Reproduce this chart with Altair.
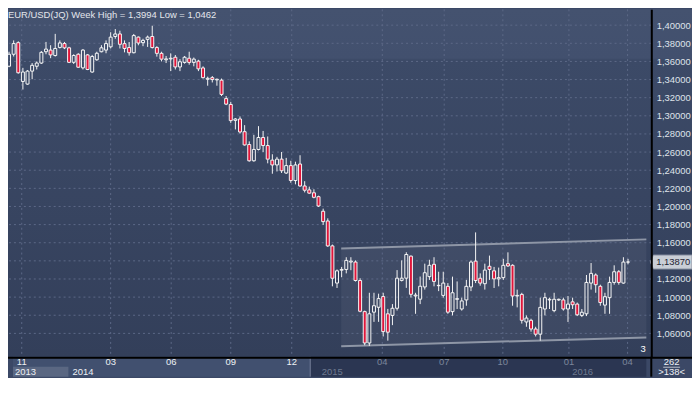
import altair as alt
import pandas as pd
import numpy as np

# ---------------- data (weekly EUR/USD candles) ----------------
opens = [1.3547,1.3679,1.3807,1.3379,1.3350,1.3493,1.3547,1.3582,1.3707,1.3725,
         1.3665,1.3754,1.3797,1.3750,1.3590,1.3679,1.3529,1.3672,1.3483,1.3618,
         1.3707,1.3725,1.3761,1.3875,1.3903,1.3796,1.3753,1.3696,1.3868,1.3807,
         1.3843,1.3875,1.3753,1.3689,1.3618,1.3628,1.3646,1.3539,1.3589,1.3635,
         1.3589,1.3603,1.3528,1.3403,1.3421,1.3396,1.3393,1.3190,1.3125,1.2950,
         1.2965,1.2825,1.2683,1.2504,1.2629,1.2761,1.2672,1.2511,1.2458,1.2522,
         1.2369,1.2451,1.2286,1.2468,1.2226,1.2183,1.2151,1.2108,1.1947,1.1840,
         1.1565,1.1155,1.1297,1.1305,1.1387,1.1387,1.1183,1.0840,1.0494,1.0834,
         1.0888,1.1006,1.0816,1.0798,1.0877,1.1184,1.1209,1.1452,1.1013,1.0977,
         1.1112,1.1226,1.1362,1.1126,1.1019,1.1119,1.0840,1.0976,1.0869,1.0969,
         1.1112,1.1397,1.1208,1.1148,1.1340,1.1290,1.1201,1.1215,1.1369,1.1351,
         1.1012,1.1030,1.0726,1.0744,1.0648,1.0591,1.0869,1.0969,1.0851,1.0969,
         1.0969,1.0869,1.0948,1.0923,1.0798,1.0816,1.1155,1.1244,1.1119,1.0912,
         1.0994,1.1162,1.1280,1.1155,1.1387]
highs = [1.3707,1.3832,1.3822,1.3529,1.3504,1.3582,1.3600,1.3715,1.3815,1.3779,
         1.3904,1.3832,1.3815,1.3761,1.3679,1.3690,1.3736,1.3682,1.3672,1.3707,
         1.3779,1.3832,1.3922,1.3957,1.3939,1.3832,1.3814,1.3903,1.3875,1.3850,
         1.3885,1.3994,1.3768,1.3707,1.3660,1.3689,1.3671,1.3625,1.3660,1.3707,
         1.3643,1.3618,1.3546,1.3432,1.3439,1.3411,1.3411,1.3218,1.3154,1.2975,
         1.2993,1.2897,1.2718,1.2790,1.2886,1.2833,1.2772,1.2576,1.2547,1.2601,
         1.2536,1.2504,1.2494,1.2565,1.2279,1.2219,1.2190,1.2119,1.1976,1.1869,
         1.1580,1.1305,1.1333,1.1440,1.1440,1.1405,1.1208,1.0851,1.1048,1.1048,
         1.1038,1.1048,1.0870,1.0923,1.1298,1.1405,1.1495,1.1459,1.1048,1.1227,
         1.1369,1.1412,1.1440,1.1280,1.1280,1.1155,1.1226,1.1173,1.0994,1.1190,
         1.1405,1.1714,1.1262,1.1369,1.1458,1.1333,1.1326,1.1422,1.1494,1.1362,
         1.1083,1.1048,1.0798,1.0762,1.0673,1.0994,1.1048,1.0994,1.1048,1.0983,
         1.0994,1.1012,1.0994,1.0940,1.0869,1.1244,1.1376,1.1262,1.1137,1.1048,
         1.1226,1.1351,1.1298,1.1440,1.1422]
lows = [1.3536,1.3654,1.3465,1.3290,1.3343,1.3404,1.3511,1.3572,1.3679,1.3636,
        1.3654,1.3743,1.3736,1.3582,1.3572,1.3529,1.3511,1.3504,1.3475,1.3607,
        1.3700,1.3690,1.3743,1.3850,1.3743,1.3700,1.3664,1.3689,1.3778,1.3768,
        1.3760,1.3743,1.3653,1.3600,1.3582,1.3493,1.3511,1.3493,1.3575,1.3564,
        1.3546,1.3493,1.3411,1.3332,1.3368,1.3332,1.3218,1.3118,1.2922,1.2850,
        1.2804,1.2672,1.2494,1.2494,1.2618,1.2601,1.2476,1.2361,1.2386,1.2369,
        1.2358,1.2261,1.2244,1.2219,1.2155,1.2137,1.2090,1.1994,1.1797,1.1554,
        1.1119,1.1101,1.1219,1.1262,1.1297,1.1172,1.0833,1.0469,1.0462,1.0727,
        1.0727,1.0566,1.0520,1.0691,1.0852,1.1173,1.1102,1.0995,1.0816,1.0923,
        1.1083,1.1190,1.1119,1.1066,1.0994,1.0816,1.0798,1.0869,1.0851,1.0905,
        1.1066,1.1155,1.1126,1.1083,1.1190,1.1101,1.1119,1.1190,1.1333,1.0905,
        1.0887,1.0708,1.0673,1.0619,1.0566,1.0519,1.0798,1.0869,1.0833,1.0958,
        1.0851,1.0726,1.0869,1.0791,1.0780,1.0791,1.1083,1.1048,1.0905,1.0816,
        1.0816,1.1137,1.1137,1.1148,1.1362]
closes = [1.3679,1.3797,1.3475,1.3483,1.3493,1.3557,1.3582,1.3700,1.3736,1.3672,
          1.3743,1.3804,1.3750,1.3590,1.3665,1.3536,1.3725,1.3511,1.3654,1.3690,
          1.3750,1.3797,1.3868,1.3903,1.3789,1.3743,1.3696,1.3885,1.3803,1.3832,
          1.3868,1.3753,1.3689,1.3625,1.3628,1.3635,1.3539,1.3596,1.3646,1.3589,
          1.3625,1.3518,1.3421,1.3414,1.3400,1.3403,1.3236,1.3129,1.2947,1.2965,
          1.2822,1.2679,1.2504,1.2629,1.2761,1.2672,1.2522,1.2458,1.2522,1.2394,
          1.2451,1.2286,1.2458,1.2226,1.2179,1.2147,1.2101,1.2005,1.1833,1.1565,
          1.1208,1.1290,1.1305,1.1405,1.1397,1.1183,1.0844,1.0494,1.0816,1.0905,
          1.0984,1.0620,1.0613,1.0877,1.1209,1.1209,1.1470,1.1031,1.1022,1.1120,
          1.1269,1.1351,1.1173,1.1130,1.1155,1.0834,1.1048,1.0983,1.0958,1.1119,
          1.1387,1.1183,1.1155,1.1298,1.1305,1.1201,1.1215,1.1351,1.1344,1.1012,
          1.1019,1.0744,1.0769,1.0648,1.0591,1.0887,1.0994,1.0976,1.0976,1.0976,
          1.0869,1.0923,1.0916,1.0805,1.0833,1.1162,1.1262,1.1137,1.0940,1.1005,
          1.1162,1.1280,1.1162,1.1387,1.1387]

# price axis ticks
price_ticks = [1.06, 1.08, 1.10, 1.12, 1.14, 1.16, 1.18, 1.20, 1.22, 1.24, 1.26,
               1.28, 1.30, 1.32, 1.34, 1.36, 1.38, 1.40]
last_price = 1.1387

# month / year labels (position in weeks from first candle)
month_labels = ["11", "03", "06", "09", "12", "04", "07", "10", "01", "04"]
month_pos = [2.75, 22.0, 35.1, 48.0, 61.2, 80.8, 94.2, 106.9, 121.2, 133.9]
year_labels = ["2013", "2014", "2015", "2016"]
year_pos = [1.3, 13.75, 67.7, 121.9]
history_split = 65.2  # start of the darker (scrolled) part of the time band

# trend channel drawn on the chart
channel_x = [71.9, 137.96]
channel_top = [1.1537, 1.1637]
channel_bot = [1.0459, 1.0555]

# ---------------- layout ----------------
W, H = 648, 350
RIGHT, BOTTOM = 41, 20
X_DOM = [0.85, 137.96]
Y_DOM = [1.03416, 1.41745]
FONT = "Liberation Sans"

xs = alt.Scale(domain=X_DOM, nice=False, zero=False)
ys = alt.Scale(domain=Y_DOM, nice=False, zero=False)
yaxis = alt.Axis(orient="right", values=price_ticks, grid=False, ticks=False,
                 domain=True, domainColor="#000000", domainWidth=2, zindex=2,
                 labelPadding=5, labelFont=FONT, labelFontSize=9.5,
                 labelColor="#dfe3ea", labelOverlap=False, title=None,
                 labelExpr="abs(datum.value - 1.14) < 0.0001 ? '' : "
                           "replace(format(datum.value, '.5f'), '.', ',')")


def Y(field):
    return alt.Y(field, scale=ys, axis=yaxis, title=None)


def XQ(field):
    return alt.X(field, scale=xs, axis=None)


df = pd.DataFrame({"idx": np.arange(len(opens)), "open": opens, "high": highs,
                   "low": lows, "close": closes})
df["top"] = df[["open", "close"]].max(axis=1)
df["bot"] = df[["open", "close"]].min(axis=1)
df["dir"] = np.where(df["close"] >= df["open"], "up", "down")

one = pd.DataFrame({"a": [0]})

bg = alt.Chart(one).mark_rect(
    fill=alt.Gradient(gradient="linear", x1=0, x2=0, y1=0, y2=1,
                      stops=[alt.GradientStop(offset=0, color="#44526f"),
                             alt.GradientStop(offset=0.14, color="#42506e"),
                             alt.GradientStop(offset=0.145, color="#3c4a67"),
                             alt.GradientStop(offset=1, color="#333f5a")])
).encode(x=alt.value(0), x2=alt.value(W + RIGHT), y=alt.value(0), y2=alt.value(H))

chan = pd.DataFrame({"idx": channel_x, "top": channel_top, "bot": channel_bot})
chan_fill = alt.Chart(chan).mark_area(color="#ffffff", opacity=0.05).encode(
    x=XQ("idx:Q"), y=Y("top:Q"), y2="bot:Q")
chan_top = alt.Chart(chan).mark_line(color="#8e96a6", strokeWidth=2).encode(
    x=XQ("idx:Q"), y=Y("top:Q"))
chan_bot = alt.Chart(chan).mark_line(color="#8e96a6", strokeWidth=2).encode(
    x=XQ("idx:Q"), y=Y("bot:Q"))

hgrid = alt.Chart(pd.DataFrame({"v": price_ticks})).mark_rule(
    color="#5d6987", strokeDash=[2, 3], strokeWidth=1).encode(y=Y("v:Q"))
vgrid = alt.Chart(pd.DataFrame({"pos": month_pos})).mark_rule(
    color="#5d6987", strokeDash=[2, 3], strokeWidth=1).encode(x=XQ("pos:Q"))

wick_up = alt.Chart(df).mark_rule(color="#f4f4f4", strokeWidth=1, clip=True).encode(
    x=XQ("idx:Q"), y=Y("high:Q"), y2="top:Q")
wick_dn = alt.Chart(df).mark_rule(color="#f4f4f4", strokeWidth=1, clip=True).encode(
    x=XQ("idx:Q"), y=Y("bot:Q"), y2="low:Q")
bodies = alt.Chart(df).mark_bar(size=3, stroke="#f6f6f6", strokeWidth=1, clip=True).encode(
    x=XQ("idx:Q"), y=Y("bot:Q"), y2="top:Q",
    fill=alt.Fill("dir:N", scale=alt.Scale(domain=["up", "down"],
                                           range=["transparent", "#e0153a"]), legend=None))

title_txt = "EUR/USD(JQ) Week High = {:.4f} Low = {:.4f}".format(
    max(highs), min(lows)).replace(".", ",")
title = alt.Chart(one).mark_text(align="left", baseline="top", font=FONT, fontSize=9.5,
                                 color="#e3e6ec").encode(
    x=alt.value(0), y=alt.value(1), text=alt.value(title_txt))

three = alt.Chart(one).mark_text(align="left", baseline="middle", font=FONT, fontSize=9.5,
                                 color="#ffffff").encode(
    x=alt.value(W - 11), y=alt.value(H - 8), text=alt.value("3"))

# ---------------- time band ----------------
band = pd.DataFrame({"s": [X_DOM[0], history_split], "e": [history_split, X_DOM[1]],
                     "c": ["#41506f", "#2b3652"]})
band_rect = alt.Chart(band).mark_rect().encode(
    x=XQ("s:Q"), x2="e:Q",
    y=alt.value(H), y2=alt.value(H + BOTTOM), fill=alt.Fill("c:N", scale=None))
cell = pd.DataFrame({"s": [X_DOM[0]], "e": [year_pos[1] - 0.9]})
cell_rect = alt.Chart(cell).mark_rect(fill="#5a6782").encode(
    x=XQ("s:Q"), x2="e:Q", y=alt.value(H + 10), y2=alt.value(H + BOTTOM))
divider = alt.Chart(pd.DataFrame({"p": [history_split]})).mark_rule(
    color="#76809a", strokeWidth=1).encode(
    x=XQ("p:Q"), y=alt.value(H), y2=alt.value(H + BOTTOM))
band_line = alt.Chart(one).mark_rule(color="#000000", strokeWidth=2).encode(
    x=alt.value(0), x2=alt.value(W + RIGHT), y=alt.value(H + 1))
band_vline = alt.Chart(one).mark_rule(color="#000000", strokeWidth=2).encode(
    x=alt.value(W), y=alt.value(H), y2=alt.value(H + BOTTOM))

mdf = pd.DataFrame({"pos": month_pos, "lab": month_labels})
mdf["c"] = np.where(mdf["pos"] > history_split, "#7c869b", "#eef0f4")
months = alt.Chart(mdf).mark_text(align="center", baseline="middle", font=FONT,
                                  fontSize=9.5).encode(
    x=XQ("pos:Q"), y=alt.value(H + 5.5),
    text="lab:N", color=alt.Color("c:N", scale=None))
ydf = pd.DataFrame({"pos": year_pos, "lab": year_labels})
ydf["c"] = np.where(ydf["pos"] > history_split, "#6f7a90", "#eef0f4")
years = alt.Chart(ydf).mark_text(align="left", baseline="middle", font=FONT,
                                 fontSize=9.5).encode(
    x=XQ("pos:Q"), y=alt.value(H + 15.5),
    text="lab:N", color=alt.Color("c:N", scale=None))

count_top = alt.Chart(one).mark_text(align="center", baseline="middle", font=FONT,
                                     fontSize=9.5, color="#eef0f4").encode(
    x=alt.value(W + 20.5), y=alt.value(H + 5.5), text=alt.value("262"))
count_bot = alt.Chart(one).mark_text(align="center", baseline="middle", font=FONT,
                                     fontSize=9.5, color="#eef0f4").encode(
    x=alt.value(W + 20.5), y=alt.value(H + 15.5), text=alt.value(">138<"))
count_line = alt.Chart(one).mark_rule(color="#b8bfcc", strokeWidth=1).encode(
    x=alt.value(W + 12), x2=alt.value(W + 29), y=alt.value(H + 10.5))

# ---------------- last price tag ----------------
tag_df = pd.DataFrame({"p": [last_price],
                       "t": [format(last_price, ".5f").replace(".", ",")]})
tag = alt.Chart(tag_df).mark_point(
    shape="M-1,0L-0.85,-0.333L1,-0.333L1,0.333L-0.85,0.333Z", size=1764,
    filled=True, fill="#c9ced6", stroke="#8e96a6", strokeWidth=1, opacity=1).encode(
    x=alt.value(W + 20), y=Y("p:Q"))
tag_txt = alt.Chart(tag_df).mark_text(align="left", baseline="middle", font=FONT,
                                      fontSize=9.5, color="#1e2433").encode(
    x=alt.value(W + 5), y=Y("p:Q"), text="t:N")

chart = alt.layer(
    bg, chan_fill, hgrid, vgrid, chan_top, chan_bot, wick_up, wick_dn, bodies,
    title, three, band_rect, cell_rect, divider, band_line, band_vline,
    months, years, count_top, count_bot, count_line, tag, tag_txt
).properties(
    width=W, height=H, background="#3b4866",
    padding={"left": 0, "top": 0, "right": RIGHT, "bottom": BOTTOM},
    autosize=alt.AutoSizeParams(type="none")
).configure_view(strokeWidth=0)

chart.save("out.html", embed_options={"renderer": "svg", "actions": False})
